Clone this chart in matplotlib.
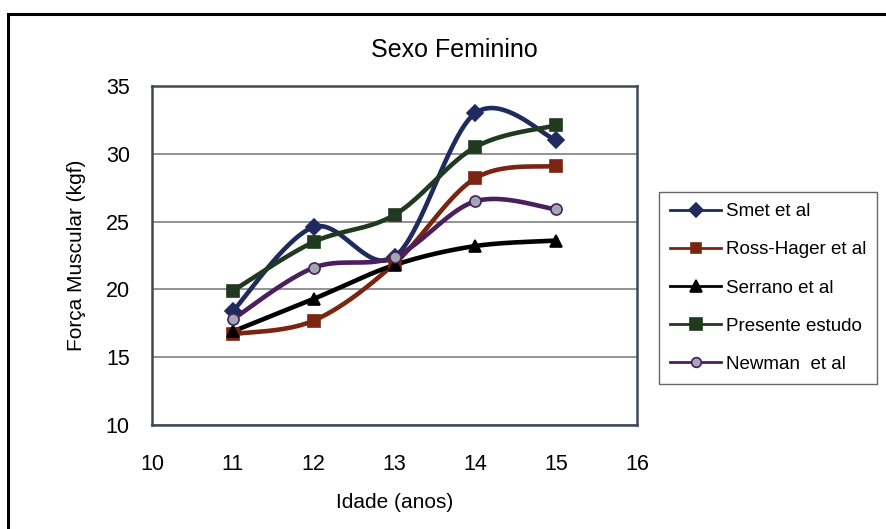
import numpy as np
import matplotlib
matplotlib.use("Agg")
import matplotlib.pyplot as plt
from matplotlib.patches import Rectangle

plt.rcParams['font.family'] = ['Liberation Sans', 'DejaVu Sans']

idade = [11, 12, 13, 14, 15]
smet = [18.4, 24.6, 22.4, 33.0, 31.0]
ross_hager = [16.7, 17.7, 21.9, 28.2, 29.1]
serrano = [16.9, 19.3, 21.8, 23.2, 23.6]
presente = [19.9, 23.5, 25.5, 30.5, 32.1]
newman = [17.8, 21.6, 22.4, 26.5, 25.9]


def smooth(x, y, n=40):
    # Catmull-Rom style bezier through the points (like a spreadsheet "smoothed line")
    x = np.asarray(x, float)
    y = np.asarray(y, float)
    px = np.concatenate([[x[0]], x, [x[-1]]])
    py = np.concatenate([[y[0]], y, [y[-1]]])
    xs, ys = [], []
    t = np.linspace(0, 1, n)
    for i in range(1, len(px) - 2):
        p0 = np.array([px[i], py[i]])
        p3 = np.array([px[i + 1], py[i + 1]])
        c1 = p0 + (np.array([px[i + 1], py[i + 1]]) - np.array([px[i - 1], py[i - 1]])) / 6
        c2 = p3 - (np.array([px[i + 2], py[i + 2]]) - np.array([px[i], py[i]])) / 6
        b = ((1 - t) ** 3)[:, None] * p0 + (3 * (1 - t) ** 2 * t)[:, None] * c1 \
            + (3 * (1 - t) * t ** 2)[:, None] * c2 + (t ** 3)[:, None] * p3
        xs.extend(b[:, 0])
        ys.extend(b[:, 1])
    return xs, ys


series = [
    ("Smet et al", smet, "#1f2a5e", "D", "#1f2a5e", 8),
    ("Ross-Hager et al", ross_hager, "#7a2512", "s", "#7a2512", 8),
    ("Serrano et al", serrano, "#000000", "^", "#000000", 9),
    ("Presente estudo", presente, "#1f3a1f", "s", "#1f3a1f", 9),
    ("Newman  et al", newman, "#4a1f5e", "o", "#a0a8b0", 8),
]

fig = plt.figure(figsize=(8.86, 5.29), dpi=100)
ax = fig.add_axes([0.1716, 0.1966, 0.5474, 0.6408])

handles = []
for label, vals, col, mk, face, ms in series:
    sx, sy = smooth(idade, vals)
    ax.plot(sx, sy, color=col, lw=3.3, solid_capstyle='round', zorder=3)
    ax.plot(idade, vals, ls='none', marker=mk, ms=ms, mfc=face, mec=col,
            mew=1.2, zorder=4)
    h, = ax.plot([], [], color=col, lw=2, marker=mk, ms=ms - 1, mfc=face,
                 mec=col, mew=1.2, label=label)
    handles.append(h)

ax.set_xlim(10, 16)
ax.set_ylim(10, 35)
ax.set_xticks(range(10, 17))
ax.set_yticks(range(10, 36, 5))
ax.tick_params(length=0, labelsize=15.5)
ax.tick_params(axis='y', pad=16)
ax.tick_params(axis='x', pad=21)
ax.yaxis.grid(True, color='#808080', lw=1.2)
ax.set_axisbelow(True)
for sp in ax.spines.values():
    sp.set_color('#3c4a58')
    sp.set_linewidth(1.8)

fig.text(454 / 886, 1 - 50 / 529, "Sexo Feminino", fontsize=18,
         ha='center', va='center')
ax.set_xlabel("Idade (anos)", fontsize=15, labelpad=13)
ax.set_ylabel("Força Muscular (kgf)", fontsize=15, labelpad=14)

leg = fig.legend(handles=handles, loc='upper left',
                 bbox_to_anchor=(659 / 886, 1 - 192 / 529),
                 fontsize=13.5, frameon=True, fancybox=False,
                 handlelength=2.7, handletextpad=0.25, labelspacing=1.12,
                 borderpad=0.6, borderaxespad=0)
leg.get_frame().set_edgecolor('#404040')
leg.get_frame().set_linewidth(1)

# outer chart border
fig.patches.append(Rectangle((8 / 886, -0.1), 1.2, 1 - 14 / 529 + 0.1,
                             transform=fig.transFigure, fill=False,
                             ec='black', lw=2.2, clip_on=False))

fig.savefig("out.png", dpi=100)
